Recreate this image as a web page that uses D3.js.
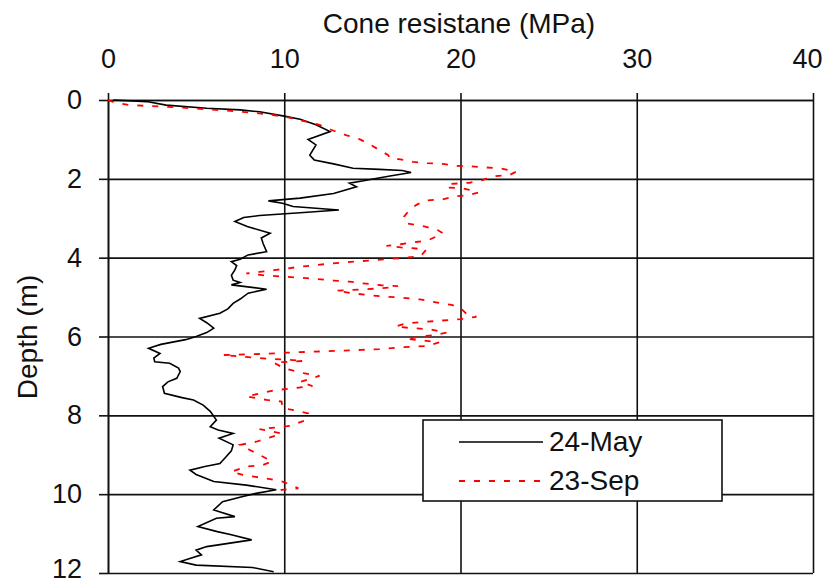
<!DOCTYPE html>
<html>
<head>
<meta charset="utf-8">
<script src="https://cdn.jsdelivr.net/npm/d3@7"></script>
<style>
  body { margin: 0; background: #fff; }
  svg text { font-family: Arial, 'Liberation Sans', sans-serif; fill: #111; }
</style>
</head>
<body>
<svg id="chart" width="826" height="584"></svg>
<script>
'use strict';

// cone resistance (MPa) vs depth (m)
var mayDepth = [0.00, 0.04, 0.13, 0.21, 0.25, 0.30, 0.41, 0.49, 0.63, 0.80, 1.00, 1.14, 1.40, 1.52, 1.62, 1.73, 1.76, 1.79, 1.84, 1.93,
  1.99, 2.05, 2.11, 2.20, 2.37, 2.49, 2.56, 2.62, 2.70, 2.79, 2.86, 2.93, 2.98, 3.08, 3.21, 3.38, 3.50, 3.64, 3.85, 3.93,
  4.04, 4.10, 4.20, 4.31, 4.45, 4.57, 4.63, 4.69, 4.80, 4.90, 5.05, 5.16, 5.30, 5.41, 5.54, 5.65, 5.79, 5.90, 6.00, 6.08,
  6.20, 6.30, 6.43, 6.55, 6.64, 6.68, 6.80, 6.89, 7.06, 7.15, 7.27, 7.44, 7.55, 7.61, 7.74, 7.90, 8.12, 8.29, 8.37, 8.46,
  8.58, 8.75, 8.90, 9.05, 9.22, 9.30, 9.39, 9.50, 9.68, 9.77, 9.85, 9.89, 9.98, 10.06, 10.19, 10.40, 10.57, 10.61, 10.82, 10.95,
  11.03, 11.16, 11.33, 11.42, 11.54, 11.71, 11.80, 11.86, 11.97];
var mayResistance = [0.3, 2.2, 3.3, 5.6, 7.5, 8.6, 10.0, 10.9, 11.8, 12.6, 11.35, 11.8, 11.45, 11.7, 12.8, 13.9, 15.4, 16.7, 17.2, 16.0,
  15.2, 14.5, 13.7, 14.1, 12.8, 10.9, 9.1, 9.9, 10.5, 13.1, 10.9, 8.6, 7.7, 7.2, 7.9, 9.2, 8.7, 8.8, 9.0, 7.95,
  7.5, 7.0, 7.3, 7.2, 7.0, 7.1, 7.5, 7.0, 9.0, 7.95, 7.5, 7.1, 6.8, 6.35, 5.2, 5.6, 6.0, 5.6, 5.0, 4.4,
  3.0, 2.3, 2.95, 2.6, 2.65, 3.5, 4.0, 4.1, 3.9, 3.4, 3.1, 3.2, 4.2, 4.85, 5.4, 5.8, 6.15, 5.8, 6.25, 7.1,
  6.3, 7.1, 7.0, 6.7, 6.35, 5.5, 4.65, 5.0, 6.0, 7.85, 9.0, 9.55, 8.4, 7.65, 6.5, 6.0, 7.2, 6.15, 5.1, 6.2,
  7.0, 8.15, 5.6, 5.0, 5.3, 4.1, 5.0, 8.2, 9.4];

var sepDepth = [0.00, 0.07, 0.13, 0.15, 0.17, 0.21, 0.27, 0.32, 0.38, 0.42, 0.55, 0.63, 0.78, 0.89, 1.00, 1.14, 1.27, 1.40, 1.48, 1.50,
  1.57, 1.60, 1.62, 1.67, 1.68, 1.71, 1.73, 1.82, 1.90, 1.94, 2.03, 2.10, 2.13, 2.22, 2.24, 2.28, 2.35, 2.41, 2.45, 2.52,
  2.55, 2.66, 2.79, 2.96, 3.05, 3.13, 3.21, 3.30, 3.38, 3.47, 3.55, 3.59, 3.66, 3.70, 3.74, 3.76, 3.80, 3.88, 3.97, 4.04,
  4.10, 4.16, 4.23, 4.31, 4.36, 4.40, 4.45, 4.52, 4.58, 4.61, 4.66, 4.70, 4.72, 4.74, 4.78, 4.84, 4.90, 4.95, 4.99, 5.01,
  5.06, 5.14, 5.20, 5.28, 5.41, 5.50, 5.56, 5.60, 5.64, 5.67, 5.75, 5.79, 5.82, 5.90, 5.96, 6.00, 6.06, 6.10, 6.15, 6.24,
  6.27, 6.32, 6.34, 6.38, 6.41, 6.44, 6.47, 6.50, 6.55, 6.60, 6.62, 6.66, 6.81, 6.93, 7.00, 7.15, 7.26, 7.31, 7.37, 7.52,
  7.61, 7.65, 7.82, 7.88, 7.95, 8.12, 8.27, 8.35, 8.46, 8.56, 8.67, 8.75, 8.88, 9.05, 9.17, 9.26, 9.30, 9.43, 9.51, 9.62,
  9.68, 9.85, 9.89, 10.00];
var sepResistance = [0.0, 0.4, 1.25, 2.2, 3.2, 4.8, 6.7, 8.2, 9.3, 10.0, 11.25, 12.0, 12.8, 13.5, 14.3, 14.9, 15.4, 15.9, 16.0, 16.5,
  17.3, 18.1, 19.0, 19.7, 20.6, 21.4, 22.2, 23.15, 22.8, 21.8, 21.25, 20.5, 19.4, 19.2, 20.1, 20.5, 21.0, 20.5, 19.6, 19.0,
  18.0, 17.5, 17.1, 16.8, 16.8, 16.9, 18.0, 18.7, 19.0, 18.6, 18.2, 17.7, 16.6, 15.8, 16.6, 17.3, 18.05, 17.9, 17.7, 15.8,
  14.0, 12.4, 10.9, 9.55, 8.6, 7.85, 8.9, 11.25, 12.8, 13.7, 14.65, 15.5, 16.45, 16.35, 15.4, 12.95, 13.8, 14.75, 15.7, 16.6,
  17.7, 18.7, 19.5, 20.0, 20.3, 20.9, 20.0, 18.8, 17.7, 16.9, 16.3, 17.3, 18.3, 19.2, 18.6, 17.7, 16.9, 17.9, 18.8, 18.05,
  16.7, 15.4, 14.4, 12.0, 10.1, 8.9, 6.5, 7.4, 8.6, 10.5, 11.1, 9.4, 10.0, 11.1, 12.0, 10.9, 11.6, 10.5, 9.4, 7.85,
  9.0, 9.85, 9.9, 10.7, 11.35, 11.25, 10.3, 8.6, 9.85, 9.2, 8.4, 7.5, 8.05, 8.8, 9.3, 8.8, 7.85, 7.0, 7.65, 9.2,
  9.9, 10.8, 9.85, 9.55];

var xTicks = [0, 10, 20, 30, 40];
var yTicks = [0, 2, 4, 6, 8, 10, 12];
var seriesNames = ['24-May', '23-Sep'];

var svg = d3.select('#chart');
var plotLeft = 108, plotRight = 813, plotTop = 100, plotBottom = 573;

var x = d3.scaleLinear().domain([0, 40]).range([plotLeft, plotRight]);
var y = d3.scaleLinear().domain([0, 12]).range([plotTop, plotBottom]);

// gridlines
svg.append('g')
  .attr('transform', 'translate(0,' + plotTop + ')')
  .call(d3.axisTop(x).tickValues(xTicks).tickSize(-(plotBottom - plotTop)).tickFormat(''))
  .call(function(g) { g.select('.domain').remove(); })
  .selectAll('line')
  .attr('stroke', '#111')
  .attr('stroke-width', 1.6);

svg.append('g')
  .attr('transform', 'translate(' + plotLeft + ',0)')
  .call(d3.axisLeft(y).tickValues(yTicks).tickSize(-(plotRight - plotLeft)).tickFormat(''))
  .call(function(g) { g.select('.domain').remove(); })
  .selectAll('line')
  .attr('stroke', '#111')
  .attr('stroke-width', 1.6);

// axes with outside ticks
var xAxis = svg.append('g')
  .attr('transform', 'translate(0,' + plotTop + ')')
  .call(d3.axisTop(x).tickValues(xTicks).tickSize(7).tickSizeOuter(0).tickPadding(25));

var yAxis = svg.append('g')
  .attr('transform', 'translate(' + plotLeft + ',0)')
  .call(d3.axisLeft(y).tickValues(yTicks).tickSize(9).tickSizeOuter(0).tickPadding(17));

[xAxis, yAxis].forEach(function(g) {
  g.selectAll('.domain').attr('stroke', '#111').attr('stroke-width', 1.6);
  g.selectAll('line').attr('stroke', '#111').attr('stroke-width', 1.6);
  g.selectAll('text')
    .style('font-family', 'Arial, Liberation Sans, sans-serif')
    .style('font-size', '27px')
    .attr('fill', '#111');
});

// end labels sit against the edges of the picture
xAxis.selectAll('.tick text')
  .filter(function(d) { return d === 40; })
  .attr('dx', -6);
yAxis.selectAll('.tick text')
  .filter(function(d) { return d === 12; })
  .attr('dy', '0.16em');

svg.append('text')
  .attr('x', 459)
  .attr('y', 33)
  .attr('text-anchor', 'middle')
  .style('font-size', '28px')
  .text('Cone resistane (MPa)');

svg.append('text')
  .attr('transform', 'translate(37,337) rotate(-90)')
  .attr('text-anchor', 'middle')
  .style('font-size', '28px')
  .text('Depth (m)');

// profiles
var line = d3.line()
  .x(function(d) { return x(d[0]); })
  .y(function(d) { return y(d[1]); });

var mayData = mayDepth.map(function(d, i) { return [mayResistance[i], d]; });
var sepData = sepDepth.map(function(d, i) { return [sepResistance[i], d]; });

svg.append('path')
  .datum(mayData)
  .attr('d', line)
  .attr('fill', 'none')
  .attr('stroke', '#000')
  .attr('stroke-width', 1.6);

svg.append('path')
  .datum(sepData)
  .attr('d', line)
  .attr('fill', 'none')
  .attr('stroke', '#ff0000')
  .attr('stroke-width', 1.8)
  .attr('stroke-dasharray', '6,9');

// legend
var legend = svg.append('g');
legend.append('rect')
  .attr('x', 423)
  .attr('y', 420)
  .attr('width', 299)
  .attr('height', 81)
  .attr('fill', '#fff')
  .attr('stroke', '#111')
  .attr('stroke-width', 1.6);

seriesNames.forEach(function(name, i) {
  var ly = 442 + i * 39;
  legend.append('line')
    .attr('x1', 459)
    .attr('x2', 543)
    .attr('y1', ly)
    .attr('y2', ly)
    .attr('stroke', i === 0 ? '#000' : '#ff0000')
    .attr('stroke-width', i === 0 ? 1.6 : 1.8)
    .attr('stroke-dasharray', i === 0 ? null : '6,9');
  legend.append('text')
    .attr('x', 549)
    .attr('y', ly + 9)
    .style('font-size', '28px')
    .text(name);
});
</script>
</body>
</html>
